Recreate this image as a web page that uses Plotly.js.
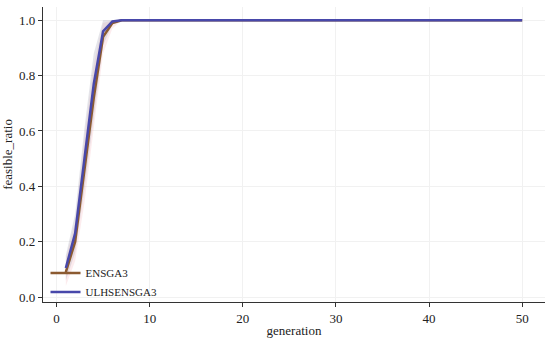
<!DOCTYPE html>
<html><head><meta charset="utf-8">
<script src="https://cdn.plot.ly/plotly-3.0.1.min.js"></script>
<style>body{margin:0;background:#fff}#c{width:550px;height:340px}</style>
</head><body><div id="c"></div>
<script>
const generations = Array.from({length:50},(_,i)=>i+1);
const ensgaHead = [0.09, 0.20, 0.46, 0.72, 0.94, 0.99, 1.0];
const ensgaLowHead = [0.04, 0.13, 0.34, 0.60, 0.88, 0.97, 1.0];
const ensgaHighHead = [0.14, 0.27, 0.58, 0.84, 0.99, 1.0, 1.0];
const ulhsHead = [0.105, 0.23, 0.50, 0.77, 0.96, 0.996, 1.0];
const ulhsLowHead = [0.06, 0.16, 0.39, 0.66, 0.91, 0.985, 1.0];
const ulhsHighHead = [0.15, 0.30, 0.61, 0.88, 1.0, 1.0, 1.0];
function full(head){ const a = head.slice(); while(a.length<generations.length) a.push(1.0); return a; }
const ensga = full(ensgaHead), ensgaLow = full(ensgaLowHead), ensgaHigh = full(ensgaHighHead);
const ulhs = full(ulhsHead), ulhsLow = full(ulhsLowHead), ulhsHigh = full(ulhsHighHead);

const brown = 'rgb(139,90,48)', blue = 'rgb(72,72,170)';
const traces = [
 {x:generations,y:ensgaLow,mode:'lines',line:{width:0},showlegend:false,hoverinfo:'skip'},
 {x:generations,y:ensgaHigh,mode:'lines',line:{width:0},fill:'tonexty',fillcolor:'rgba(240,160,170,0.2)',showlegend:false,hoverinfo:'skip'},
 {x:generations,y:ulhsLow,mode:'lines',line:{width:0},showlegend:false,hoverinfo:'skip'},
 {x:generations,y:ulhsHigh,mode:'lines',line:{width:0},fill:'tonexty',fillcolor:'rgba(150,150,170,0.25)',showlegend:false,hoverinfo:'skip'},
 {x:generations,y:ensga,mode:'lines',name:'ENSGA3',line:{color:brown,width:2.5}},
 {x:generations,y:ulhs,mode:'lines',name:'ULHSENSGA3',line:{color:blue,width:2.5}}
];
const font = {family:'Liberation Serif, Times New Roman, serif', size:13, color:'#222'};
const layout = {
 width:550,height:340,margin:{l:43,r:5,t:7,b:38},
 paper_bgcolor:'#fff',plot_bgcolor:'#fff',font:font,
 xaxis:{range:[-1.45,52.45],tickvals:[0,10,20,30,40,50],ticks:'outside',ticklen:4,tickcolor:'#333',
   tickfont:font,showline:true,linecolor:'#333',linewidth:1.2,gridcolor:'#f1f1f1',zeroline:false,
   title:{text:'generation',font:font,standoff:1}},
 yaxis:{range:[-0.018,1.048],tickvals:[0,0.2,0.4,0.6,0.8,1.0],tickformat:'.1f',ticks:'outside',ticklen:4,tickcolor:'#333',
   tickfont:font,showline:true,linecolor:'#333',linewidth:1.2,gridcolor:'#f1f1f1',zeroline:false,
   title:{text:'feasible_ratio',font:font,standoff:6}},
 legend:{x:0.005,y:-0.015,xanchor:'left',yanchor:'bottom',traceorder:'normal',bgcolor:'rgba(255,255,255,0)',font:{family:font.family,size:11,color:'#222'},itemwidth:30,tracegroupgap:0},
 showlegend:true
};
Plotly.newPlot('c',traces,layout,{displayModeBar:false,staticPlot:true});
</script></body></html>
